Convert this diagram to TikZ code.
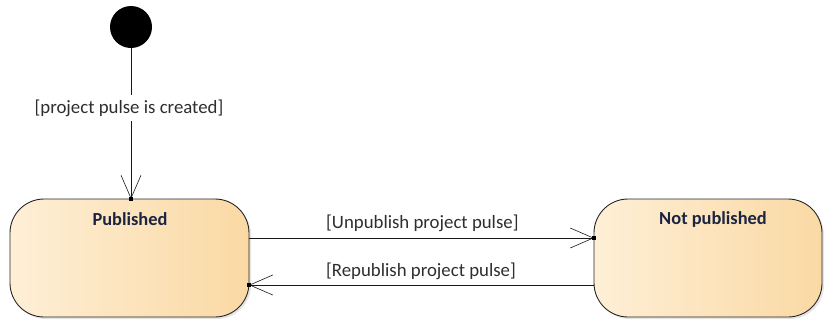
\documentclass[tikz,border=0pt]{standalone}
\usepackage{fontspec}
\setmainfont{Carlito}
\usetikzlibrary{arrows.meta,shadows}
\definecolor{stateL}{HTML}{FEEFD6}
\definecolor{stateR}{HTML}{FAD9A4}
\definecolor{titleC}{HTML}{1B2442}
\definecolor{labelC}{HTML}{2E2E2E}
\tikzset{
  statebox/.style={draw=black!85, line width=0.9pt, rounded corners=34pt,
    left color=stateL, right color=stateR,
    drop shadow={shadow xshift=2pt, shadow yshift=-2pt, opacity=0.25, fill=black!40}},
  statetitle/.style={font=\fontsize{18.4}{20}\selectfont\bfseries, text=titleC, inner sep=0pt},
  guard/.style={font=\fontsize{18.8}{20}\selectfont, text=labelC, inner sep=0pt},
  trans/.style={draw=black!90, line width=0.8pt,
    -{Straight Barb[length=23pt, width=20pt, line width=0.6pt]}},
  tipdot/.style={fill=black, minimum size=3.5pt, inner sep=0pt, draw=none}
}
\begin{document}
\begin{tikzpicture}[x=1pt,y=-1pt]
\useasboundingbox (0,0) rectangle (826,322);
% initial pseudo-state
\node[circle, fill=black, minimum size=42pt, inner sep=0pt] (init) at (131,27) {};
% states
\node[statebox, minimum width=239pt, minimum height=118pt] (pub) at (129.5,258) {};
\node[statebox, minimum width=228pt, minimum height=118pt] (unpub) at (708,258) {};
\node[statetitle] (pubT) at (130,219) {Published};
\node[statetitle] (unpubT) at (713,219) {Not published};
% anchor points for the transitions
\coordinate (pubTop) at (131,199);
\coordinate (pubR1) at (249,238);
\coordinate (pubR2) at (249,285);
\coordinate (unL1) at (594,238);
\coordinate (unL2) at (594,285);
% transitions
\draw[trans] (init) -- (pubTop);
\draw[trans] (pubR1) -- (unL1);
\draw[trans] (unL2) -- (pubR2);
\node[tipdot] (d1) at (pubTop) {};
\node[tipdot] (d2) at (unL1) {};
\node[tipdot] (d3) at (pubR2) {};
% guards
\node[guard, fill=white, inner xsep=1pt, inner ysep=5pt] (g0) at (129,108) {[project pulse is created]};
\node[guard, anchor=west] (g1) at (326,223) {[Unpublish project pulse]};
\node[guard, anchor=west] (g2) at (326,271) {[Republish project pulse]};
\end{tikzpicture}
\end{document}
